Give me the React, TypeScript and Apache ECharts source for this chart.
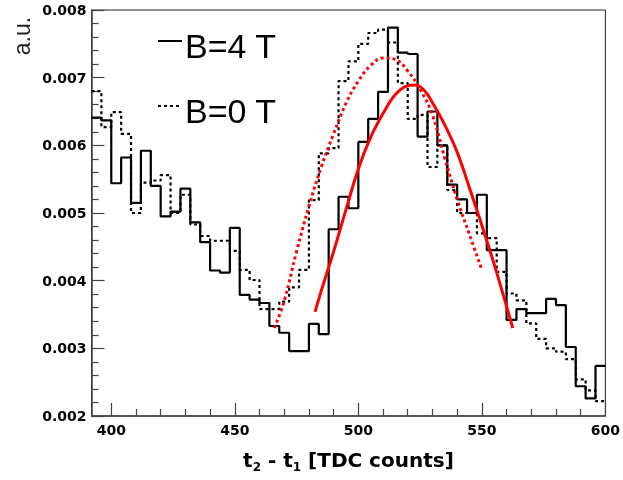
import React, { useEffect, useRef } from "react";
import * as echarts from "echarts";

// histogram binning: 52 bins of 4 TDC counts from 392 to 600
const binStart = 392;
const binWidth = 4;

// B = 4 T (solid black)
const counts4T = [
  0.00641, 0.00637, 0.00544, 0.00582, 0.00515, 0.00592, 0.0054, 0.00495, 0.00502, 0.00536,
  0.00486, 0.00457, 0.00415, 0.00412, 0.00478, 0.00379, 0.00372, 0.00367, 0.00333, 0.00323,
  0.00296, 0.00296, 0.00336, 0.00321, 0.00476, 0.00524, 0.00507, 0.00605, 0.00639, 0.00679,
  0.00774, 0.00737, 0.00735, 0.00613, 0.0065, 0.006, 0.00542, 0.0052, 0.005, 0.00527,
  0.00445, 0.00445, 0.00342, 0.00358, 0.00352, 0.00352, 0.00373, 0.00364, 0.00302, 0.00244,
  0.00226, 0.00274,
];

// B = 0 T (dotted black)
const counts0T = [
  0.0068, 0.00627, 0.00649, 0.00617, 0.005, 0.00545, 0.00548, 0.00556, 0.005, 0.00527,
  0.00483, 0.00466, 0.00459, 0.00459, 0.00444, 0.00416, 0.00401, 0.00358, 0.00358, 0.00369,
  0.0039, 0.00416, 0.00519, 0.00588, 0.00596, 0.00695, 0.00724, 0.0075, 0.00766, 0.00771,
  0.00752, 0.00692, 0.00639, 0.00645, 0.00568, 0.006, 0.00534, 0.005, 0.005, 0.0047,
  0.00463, 0.00413, 0.00381, 0.00371, 0.00337, 0.00314, 0.003, 0.00295, 0.00284, 0.00254,
  0.00238, 0.00222,
];

// fitted curves
const fit4T = [
  [482.5, 0.00354], [485, 0.00385], [490, 0.00443], [495, 0.00505], [500, 0.00565],
  [505, 0.00612], [510, 0.00647], [515, 0.00675], [520, 0.00688], [523, 0.00689],
  [527, 0.0068], [530, 0.00663], [535, 0.0063], [540, 0.0059], [545, 0.00537],
  [550, 0.00482], [555, 0.00424], [560, 0.00362], [562.5, 0.0033],
];
const fit0T = [
  [466, 0.0033], [470, 0.0037], [475, 0.00443], [480, 0.0051], [485, 0.00568],
  [490, 0.00617], [495, 0.00662], [500, 0.00695], [505, 0.00718], [510, 0.00729],
  [515, 0.00727], [520, 0.0071], [525, 0.00683], [530, 0.00645], [535, 0.00581],
  [540, 0.0052], [545, 0.00468], [550, 0.00416],
];

const xMajorTicks = [400, 450, 500, 550, 600];
const xMinorTicks = [
  410, 420, 430, 440, 460, 470, 480, 490, 510, 520, 530, 540, 560, 570, 580, 590,
];
const legendLabels = ["B=4 T", "B=0 T"];

// left edge of every bin, plus the right edge of the last one
const toSteps = (values: number[]) => {
  const pts = values.map((v, i) => [binStart + i * binWidth, v]);
  pts.push([binStart + values.length * binWidth, values[values.length - 1]]);
  return pts;
};

const App: React.FC = () => {
  const chartRef = useRef<HTMLDivElement>(null);

  useEffect(() => {
    if (!chartRef.current) return;
    const chart = echarts.init(chartRef.current, null, { renderer: "svg" });
    const gray = "#444";
    const labelFont = {
      fontFamily: "DejaVu Sans",
      fontWeight: "bold" as const,
      fontSize: 14,
      color: "#000",
    };

    chart.setOption({
      animation: false,
      textStyle: { fontFamily: "Liberation Sans" },
      grid: {
        left: 91.5,
        right: 17,
        top: 10,
        bottom: 64,
        show: true,
        borderColor: "#222",
        borderWidth: 1,
      },
      xAxis: [
        {
          type: "value",
          min: 392,
          max: 600,
          position: "bottom",
          axisLine: { lineStyle: { color: gray, width: 1.5 } },
          axisTick: {
            inside: true,
            length: 13,
            customValues: xMajorTicks,
            lineStyle: { color: gray, width: 1.2 },
          },
          axisLabel: { customValues: xMajorTicks, margin: 7, ...labelFont },
          splitLine: { show: false },
          name: "t{sub|2} - t{sub|1} [TDC counts]",
          nameLocation: "middle",
          nameGap: 31,
          nameTextStyle: {
            fontFamily: "DejaVu Sans",
            fontWeight: "bold",
            fontSize: 20,
            lineHeight: 26,
            color: "#000",
            rich: {
              sub: {
                fontFamily: "DejaVu Sans",
                fontWeight: "bold",
                fontSize: 12,
                lineHeight: 12,
                verticalAlign: "bottom",
                color: "#000",
              },
            },
          },
        },
        {
          type: "value",
          min: 392,
          max: 600,
          position: "bottom",
          axisLine: { show: false },
          axisTick: {
            inside: true,
            length: 7,
            customValues: xMinorTicks,
            lineStyle: { color: gray, width: 1.2 },
          },
          axisLabel: { show: false },
          splitLine: { show: false },
        },
      ],
      yAxis: {
        type: "value",
        min: 0.002,
        max: 0.008,
        interval: 0.001,
        axisLine: { show: true, lineStyle: { color: gray, width: 1.5 } },
        axisTick: { inside: true, length: 13, lineStyle: { color: gray, width: 1.2 } },
        minorTick: {
          show: true,
          splitNumber: 5,
          length: 7,
          lineStyle: { color: gray, width: 1.2 },
        },
        axisLabel: {
          margin: 5,
          formatter: (v: number) => v.toFixed(3),
          ...labelFont,
        },
        splitLine: { show: false },
      },
      series: [
        {
          name: legendLabels[0],
          type: "line",
          step: "end",
          data: toSteps(counts4T),
          symbol: "none",
          lineStyle: { color: "#000", width: 2.2 },
        },
        {
          name: legendLabels[1],
          type: "line",
          step: "end",
          data: toSteps(counts0T),
          symbol: "none",
          lineStyle: { color: "#000", width: 2.2, type: [3, 3] },
        },
        {
          type: "line",
          data: fit0T,
          smooth: 0.4,
          symbol: "none",
          lineStyle: { color: "#ff0000", width: 3, type: [3, 3] },
        },
        {
          type: "line",
          data: fit4T,
          smooth: 0.4,
          symbol: "none",
          lineStyle: { color: "#ff0000", width: 3 },
        },
      ],
      graphic: [
        {
          type: "line",
          shape: { x1: 158, y1: 41, x2: 182, y2: 41 },
          style: { stroke: "#000", lineWidth: 2 },
        },
        {
          type: "text",
          x: 185,
          y: 46,
          style: {
            text: legendLabels[0],
            fontFamily: "Liberation Sans",
            fontSize: 34,
            fill: "#000",
            verticalAlign: "middle",
          },
        },
        {
          type: "line",
          shape: { x1: 158, y1: 106, x2: 182, y2: 106 },
          style: { stroke: "#000", lineWidth: 2, lineDash: [3, 3] },
        },
        {
          type: "text",
          x: 185,
          y: 111,
          style: {
            text: legendLabels[1],
            fontFamily: "Liberation Sans",
            fontSize: 34,
            fill: "#000",
            verticalAlign: "middle",
          },
        },
        {
          type: "text",
          x: 22,
          y: 36,
          rotation: Math.PI / 2,
          style: {
            text: "a.u.",
            fontFamily: "Liberation Sans",
            fontSize: 23,
            fill: "#222",
            align: "center",
            verticalAlign: "middle",
          },
        },
      ],
    });

    return () => {
      chart.dispose();
    };
  }, []);

  return (
    <div
      ref={chartRef}
      style={{ position: "fixed", left: 0, top: 0, width: 623, height: 480 }}
    />
  );
};

export default App;
